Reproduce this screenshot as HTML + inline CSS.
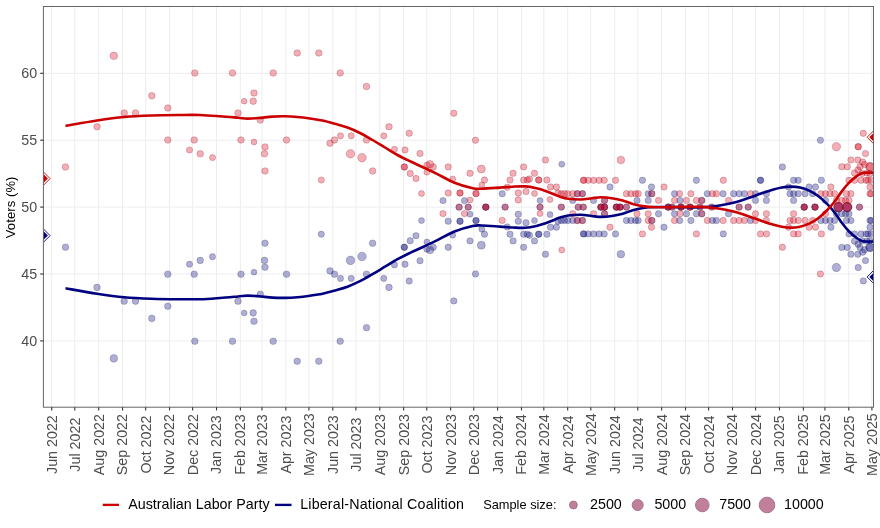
<!DOCTYPE html>
<html><head><meta charset="utf-8"><title>Two-party preferred voting intention</title>
<style>html,body{margin:0;padding:0;background:#fff}svg{display:block}</style></head>
<body>
<svg width="880" height="528" viewBox="0 0 880 528" font-family="Liberation Sans, Arial, sans-serif">
<rect width="880" height="528" fill="#fff"/>
<defs><clipPath id="cp"><rect x="43.4" y="6.5" width="830.1" height="400.7"/></clipPath></defs>
<g stroke="#ededed" stroke-width="1" fill="none">
<path d="M43.4 340.90H873.5"/>
<path d="M43.4 274.00H873.5"/>
<path d="M43.4 207.10H873.5"/>
<path d="M43.4 140.20H873.5"/>
<path d="M43.4 73.30H873.5"/>
<path d="M51.70 6.5V407.2"/>
<path d="M74.80 6.5V407.2"/>
<path d="M98.68 6.5V407.2"/>
<path d="M122.55 6.5V407.2"/>
<path d="M145.66 6.5V407.2"/>
<path d="M169.53 6.5V407.2"/>
<path d="M192.64 6.5V407.2"/>
<path d="M216.51 6.5V407.2"/>
<path d="M240.38 6.5V407.2"/>
<path d="M261.95 6.5V407.2"/>
<path d="M285.82 6.5V407.2"/>
<path d="M308.93 6.5V407.2"/>
<path d="M332.80 6.5V407.2"/>
<path d="M355.91 6.5V407.2"/>
<path d="M379.78 6.5V407.2"/>
<path d="M403.65 6.5V407.2"/>
<path d="M426.76 6.5V407.2"/>
<path d="M450.63 6.5V407.2"/>
<path d="M473.74 6.5V407.2"/>
<path d="M497.61 6.5V407.2"/>
<path d="M521.49 6.5V407.2"/>
<path d="M543.82 6.5V407.2"/>
<path d="M567.69 6.5V407.2"/>
<path d="M590.80 6.5V407.2"/>
<path d="M614.67 6.5V407.2"/>
<path d="M637.78 6.5V407.2"/>
<path d="M661.65 6.5V407.2"/>
<path d="M685.53 6.5V407.2"/>
<path d="M708.63 6.5V407.2"/>
<path d="M732.50 6.5V407.2"/>
<path d="M755.61 6.5V407.2"/>
<path d="M779.48 6.5V407.2"/>
<path d="M803.36 6.5V407.2"/>
<path d="M824.92 6.5V407.2"/>
<path d="M848.80 6.5V407.2"/>
<path d="M871.90 6.5V407.2"/>
</g>
<g clip-path="url(#cp)">
<g fill="#0a0a86" fill-opacity="0.33" stroke="#15153f" stroke-opacity="0.38" stroke-width="0.6">
<circle cx="113.8" cy="358.4" r="3.80"/>
<circle cx="65.5" cy="247.2" r="3.30"/>
<circle cx="97.0" cy="287.4" r="3.30"/>
<circle cx="124.2" cy="301.2" r="3.30"/>
<circle cx="135.5" cy="301.2" r="3.30"/>
<circle cx="151.8" cy="318.4" r="3.30"/>
<circle cx="167.8" cy="306.2" r="3.30"/>
<circle cx="167.8" cy="274.2" r="3.30"/>
<circle cx="194.8" cy="341.2" r="3.30"/>
<circle cx="194.2" cy="274.2" r="3.30"/>
<circle cx="189.5" cy="264.2" r="3.10"/>
<circle cx="200.2" cy="260.4" r="3.30"/>
<circle cx="212.5" cy="256.7" r="3.10"/>
<circle cx="232.5" cy="341.2" r="3.30"/>
<circle cx="238.0" cy="301.2" r="3.30"/>
<circle cx="244.2" cy="312.9" r="2.90"/>
<circle cx="254.0" cy="321.2" r="3.30"/>
<circle cx="253.2" cy="312.9" r="3.30"/>
<circle cx="241.0" cy="274.2" r="3.30"/>
<circle cx="254.0" cy="272.2" r="2.90"/>
<circle cx="260.3" cy="294.2" r="3.30"/>
<circle cx="273.2" cy="341.2" r="3.30"/>
<circle cx="297.2" cy="361.2" r="3.30"/>
<circle cx="318.8" cy="361.2" r="3.30"/>
<circle cx="340.2" cy="341.2" r="3.30"/>
<circle cx="366.5" cy="327.7" r="3.30"/>
<circle cx="286.5" cy="274.2" r="3.30"/>
<circle cx="265.0" cy="267.2" r="3.30"/>
<circle cx="264.5" cy="260.4" r="3.30"/>
<circle cx="265.0" cy="243.2" r="3.30"/>
<circle cx="321.3" cy="234.2" r="3.10"/>
<circle cx="330.0" cy="270.9" r="3.30"/>
<circle cx="334.5" cy="274.2" r="3.30"/>
<circle cx="340.5" cy="278.4" r="3.10"/>
<circle cx="351.2" cy="278.4" r="3.10"/>
<circle cx="350.5" cy="260.4" r="4.30"/>
<circle cx="362.0" cy="256.5" r="4.30"/>
<circle cx="366.5" cy="274.2" r="3.30"/>
<circle cx="372.6" cy="243.2" r="3.30"/>
<circle cx="383.8" cy="278.4" r="3.10"/>
<circle cx="389.0" cy="287.4" r="3.30"/>
<circle cx="409.2" cy="281.0" r="3.20"/>
<circle cx="394.5" cy="264.9" r="3.10"/>
<circle cx="405.0" cy="264.2" r="3.20"/>
<circle cx="420.0" cy="260.7" r="3.20"/>
<circle cx="404.3" cy="247.2" r="3.20"/>
<circle cx="404.3" cy="247.2" r="3.20"/>
<circle cx="410.2" cy="240.7" r="3.20"/>
<circle cx="416.0" cy="235.7" r="3.20"/>
<circle cx="426.9" cy="249.1" r="3.20"/>
<circle cx="430.0" cy="250.0" r="3.80"/>
<circle cx="433.3" cy="247.3" r="3.20"/>
<circle cx="426.9" cy="242.0" r="3.00"/>
<circle cx="421.5" cy="220.6" r="3.00"/>
<circle cx="448.2" cy="247.3" r="3.20"/>
<circle cx="452.7" cy="235.2" r="3.00"/>
<circle cx="448.2" cy="221.2" r="3.20"/>
<circle cx="443.0" cy="200.6" r="3.20"/>
<circle cx="460.0" cy="221.2" r="3.20"/>
<circle cx="460.0" cy="221.2" r="3.20"/>
<circle cx="453.8" cy="300.9" r="3.20"/>
<circle cx="475.5" cy="274.0" r="3.20"/>
<circle cx="470.0" cy="240.9" r="3.20"/>
<circle cx="481.3" cy="245.2" r="4.00"/>
<circle cx="484.5" cy="234.2" r="3.20"/>
<circle cx="481.8" cy="229.2" r="3.00"/>
<circle cx="476.0" cy="220.6" r="3.20"/>
<circle cx="476.0" cy="220.6" r="3.20"/>
<circle cx="470.0" cy="214.2" r="3.00"/>
<circle cx="464.5" cy="200.6" r="3.20"/>
<circle cx="502.2" cy="193.8" r="3.20"/>
<circle cx="510.0" cy="234.2" r="3.20"/>
<circle cx="513.1" cy="240.9" r="3.20"/>
<circle cx="507.3" cy="226.9" r="3.20"/>
<circle cx="523.6" cy="247.3" r="3.20"/>
<circle cx="523.6" cy="234.2" r="3.20"/>
<circle cx="527.3" cy="234.2" r="3.20"/>
<circle cx="529.5" cy="235.2" r="3.20"/>
<circle cx="518.2" cy="221.2" r="3.20"/>
<circle cx="526.0" cy="222.7" r="3.20"/>
<circle cx="518.2" cy="214.2" r="3.20"/>
<circle cx="534.5" cy="240.9" r="3.20"/>
<circle cx="538.7" cy="234.2" r="3.20"/>
<circle cx="538.7" cy="234.2" r="3.20"/>
<circle cx="534.5" cy="220.6" r="3.00"/>
<circle cx="545.5" cy="254.2" r="3.20"/>
<circle cx="546.9" cy="234.2" r="3.20"/>
<circle cx="550.5" cy="227.2" r="3.20"/>
<circle cx="556.4" cy="227.2" r="3.20"/>
<circle cx="550.0" cy="214.6" r="3.00"/>
<circle cx="540.0" cy="200.6" r="3.00"/>
<circle cx="558.0" cy="221.2" r="3.20"/>
<circle cx="561.8" cy="164.2" r="3.00"/>
<circle cx="459.1" cy="207.1" r="3.20"/>
<circle cx="468.2" cy="207.1" r="3.20"/>
<circle cx="485.8" cy="207.1" r="3.20"/>
<circle cx="485.8" cy="207.1" r="3.20"/>
<circle cx="505.1" cy="207.1" r="3.20"/>
<circle cx="540.0" cy="207.1" r="3.20"/>
<circle cx="561.3" cy="220.5" r="3.20"/>
<circle cx="564.5" cy="220.5" r="3.20"/>
<circle cx="567.8" cy="220.5" r="3.20"/>
<circle cx="572.7" cy="220.5" r="3.20"/>
<circle cx="577.3" cy="220.5" r="3.20"/>
<circle cx="582.4" cy="220.5" r="3.20"/>
<circle cx="577.3" cy="193.7" r="3.20"/>
<circle cx="582.4" cy="193.7" r="3.20"/>
<circle cx="583.6" cy="233.9" r="3.20"/>
<circle cx="583.6" cy="233.9" r="3.20"/>
<circle cx="588.2" cy="233.9" r="3.20"/>
<circle cx="593.6" cy="233.9" r="3.20"/>
<circle cx="599.1" cy="233.9" r="3.20"/>
<circle cx="604.2" cy="233.9" r="3.20"/>
<circle cx="615.5" cy="233.9" r="3.20"/>
<circle cx="620.9" cy="254.2" r="3.80"/>
<circle cx="610.0" cy="187.0" r="3.20"/>
<circle cx="651.5" cy="187.0" r="3.20"/>
<circle cx="642.4" cy="180.3" r="3.20"/>
<circle cx="696.4" cy="180.3" r="3.20"/>
<circle cx="664.0" cy="227.2" r="3.20"/>
<circle cx="626.4" cy="220.5" r="3.20"/>
<circle cx="630.9" cy="220.5" r="3.20"/>
<circle cx="635.5" cy="220.5" r="3.20"/>
<circle cx="638.2" cy="220.5" r="3.20"/>
<circle cx="651.8" cy="220.5" r="3.20"/>
<circle cx="679.6" cy="220.5" r="3.20"/>
<circle cx="690.9" cy="220.5" r="3.20"/>
<circle cx="648.2" cy="193.7" r="3.20"/>
<circle cx="651.8" cy="193.7" r="3.20"/>
<circle cx="674.5" cy="193.7" r="3.20"/>
<circle cx="707.3" cy="193.7" r="3.20"/>
<circle cx="604.5" cy="213.8" r="3.20"/>
<circle cx="658.5" cy="213.8" r="3.20"/>
<circle cx="674.5" cy="213.8" r="3.20"/>
<circle cx="686.4" cy="213.8" r="3.20"/>
<circle cx="696.4" cy="213.8" r="3.20"/>
<circle cx="701.8" cy="213.8" r="3.20"/>
<circle cx="593.6" cy="200.4" r="3.20"/>
<circle cx="572.7" cy="200.4" r="3.20"/>
<circle cx="637.0" cy="200.4" r="3.20"/>
<circle cx="648.2" cy="200.4" r="3.20"/>
<circle cx="680.0" cy="200.4" r="3.20"/>
<circle cx="701.8" cy="200.4" r="3.20"/>
<circle cx="604.5" cy="200.4" r="3.20"/>
<circle cx="561.3" cy="207.1" r="3.20"/>
<circle cx="578.2" cy="207.1" r="3.20"/>
<circle cx="583.3" cy="207.1" r="3.20"/>
<circle cx="600.9" cy="207.1" r="3.20"/>
<circle cx="604.5" cy="207.1" r="3.20"/>
<circle cx="600.9" cy="207.1" r="3.20"/>
<circle cx="604.5" cy="207.1" r="3.20"/>
<circle cx="616.4" cy="207.1" r="3.20"/>
<circle cx="620.0" cy="207.1" r="3.20"/>
<circle cx="616.4" cy="207.1" r="3.20"/>
<circle cx="620.0" cy="207.1" r="3.20"/>
<circle cx="626.4" cy="207.1" r="3.20"/>
<circle cx="668.2" cy="207.1" r="3.20"/>
<circle cx="668.2" cy="207.1" r="3.20"/>
<circle cx="672.0" cy="207.1" r="3.20"/>
<circle cx="681.0" cy="207.1" r="3.20"/>
<circle cx="681.0" cy="207.1" r="3.20"/>
<circle cx="690.0" cy="207.1" r="3.20"/>
<circle cx="690.0" cy="207.1" r="3.20"/>
<circle cx="700.0" cy="207.1" r="3.20"/>
<circle cx="711.8" cy="207.1" r="3.20"/>
<circle cx="723.1" cy="193.7" r="3.20"/>
<circle cx="733.6" cy="193.7" r="3.20"/>
<circle cx="739.1" cy="193.7" r="3.20"/>
<circle cx="744.5" cy="193.7" r="3.20"/>
<circle cx="755.5" cy="193.7" r="3.20"/>
<circle cx="766.4" cy="193.7" r="3.20"/>
<circle cx="790.0" cy="193.7" r="3.20"/>
<circle cx="793.6" cy="193.7" r="3.20"/>
<circle cx="798.2" cy="193.7" r="3.20"/>
<circle cx="805.1" cy="193.7" r="3.20"/>
<circle cx="812.7" cy="193.7" r="3.20"/>
<circle cx="712.4" cy="220.5" r="3.20"/>
<circle cx="716.4" cy="220.5" r="3.20"/>
<circle cx="750.5" cy="220.5" r="3.20"/>
<circle cx="820.9" cy="220.5" r="3.20"/>
<circle cx="825.5" cy="220.5" r="3.20"/>
<circle cx="830.0" cy="220.5" r="3.20"/>
<circle cx="834.5" cy="220.5" r="3.20"/>
<circle cx="846.4" cy="220.5" r="3.20"/>
<circle cx="850.9" cy="220.5" r="3.20"/>
<circle cx="723.3" cy="233.9" r="3.20"/>
<circle cx="760.5" cy="180.3" r="3.20"/>
<circle cx="793.6" cy="180.3" r="3.20"/>
<circle cx="798.2" cy="180.3" r="3.20"/>
<circle cx="821.3" cy="180.3" r="3.20"/>
<circle cx="782.4" cy="167.0" r="3.20"/>
<circle cx="820.4" cy="140.2" r="3.20"/>
<circle cx="788.5" cy="187.0" r="3.20"/>
<circle cx="809.1" cy="187.0" r="3.20"/>
<circle cx="815.5" cy="187.0" r="3.20"/>
<circle cx="830.9" cy="227.2" r="3.20"/>
<circle cx="728.5" cy="213.8" r="3.20"/>
<circle cx="845.5" cy="213.8" r="3.20"/>
<circle cx="849.0" cy="213.8" r="3.20"/>
<circle cx="836.4" cy="213.8" r="3.20"/>
<circle cx="841.8" cy="213.8" r="3.20"/>
<circle cx="755.5" cy="200.4" r="3.20"/>
<circle cx="766.4" cy="200.4" r="3.20"/>
<circle cx="793.6" cy="200.4" r="3.20"/>
<circle cx="825.5" cy="200.4" r="3.20"/>
<circle cx="739.1" cy="207.1" r="3.20"/>
<circle cx="748.2" cy="207.1" r="3.20"/>
<circle cx="804.2" cy="207.1" r="3.20"/>
<circle cx="815.0" cy="207.1" r="3.20"/>
<circle cx="859.5" cy="207.1" r="3.20"/>
<circle cx="804.2" cy="207.1" r="3.20"/>
<circle cx="815.0" cy="207.1" r="3.20"/>
<circle cx="838.5" cy="207.1" r="4.60"/>
<circle cx="847.2" cy="207.1" r="4.60"/>
<circle cx="838.5" cy="207.1" r="4.60"/>
<circle cx="847.2" cy="207.1" r="4.60"/>
<circle cx="863.3" cy="280.9" r="3.20"/>
<circle cx="836.4" cy="267.5" r="4.20"/>
<circle cx="858.2" cy="267.5" r="3.20"/>
<circle cx="865.5" cy="260.6" r="3.20"/>
<circle cx="850.9" cy="254.2" r="3.20"/>
<circle cx="857.8" cy="254.2" r="3.20"/>
<circle cx="862.7" cy="252.2" r="3.20"/>
<circle cx="841.8" cy="247.4" r="3.20"/>
<circle cx="847.3" cy="247.4" r="3.20"/>
<circle cx="860.0" cy="247.4" r="3.20"/>
<circle cx="864.5" cy="249.7" r="3.20"/>
<circle cx="870.0" cy="247.4" r="4.20"/>
<circle cx="870.0" cy="247.4" r="4.20"/>
<circle cx="854.5" cy="241.2" r="3.20"/>
<circle cx="858.0" cy="244.2" r="3.20"/>
<circle cx="862.0" cy="240.7" r="3.20"/>
<circle cx="867.0" cy="241.2" r="3.20"/>
<circle cx="870.0" cy="227.2" r="3.20"/>
<circle cx="849.0" cy="233.9" r="3.20"/>
<circle cx="854.5" cy="233.9" r="3.20"/>
<circle cx="861.0" cy="233.9" r="3.20"/>
<circle cx="868.0" cy="233.9" r="3.20"/>
<circle cx="871.0" cy="233.9" r="3.20"/>
<circle cx="866.0" cy="233.9" r="3.20"/>
<circle cx="870.0" cy="220.5" r="3.20"/>
<circle cx="871.0" cy="220.5" r="3.20"/>
<circle cx="870.0" cy="240.6" r="3.20"/>
<circle cx="760.5" cy="180.3" r="3.20"/>
</g>
<g fill="#dd0a1e" fill-opacity="0.33" stroke="#7a0018" stroke-opacity="0.38" stroke-width="0.6">
<circle cx="113.8" cy="55.8" r="3.80"/>
<circle cx="65.5" cy="167.0" r="3.30"/>
<circle cx="97.0" cy="126.8" r="3.30"/>
<circle cx="124.2" cy="113.0" r="3.30"/>
<circle cx="135.5" cy="113.0" r="3.30"/>
<circle cx="151.8" cy="95.8" r="3.30"/>
<circle cx="167.8" cy="108.0" r="3.30"/>
<circle cx="167.8" cy="140.0" r="3.30"/>
<circle cx="194.8" cy="73.0" r="3.30"/>
<circle cx="194.2" cy="140.0" r="3.30"/>
<circle cx="189.5" cy="150.0" r="3.10"/>
<circle cx="200.2" cy="153.8" r="3.30"/>
<circle cx="212.5" cy="157.5" r="3.10"/>
<circle cx="232.5" cy="73.0" r="3.30"/>
<circle cx="238.0" cy="113.0" r="3.30"/>
<circle cx="244.2" cy="101.2" r="2.90"/>
<circle cx="254.0" cy="93.0" r="3.30"/>
<circle cx="253.2" cy="101.2" r="3.30"/>
<circle cx="241.0" cy="140.0" r="3.30"/>
<circle cx="254.0" cy="142.0" r="2.90"/>
<circle cx="260.3" cy="120.0" r="3.30"/>
<circle cx="273.2" cy="73.0" r="3.30"/>
<circle cx="297.2" cy="53.0" r="3.30"/>
<circle cx="318.8" cy="53.0" r="3.30"/>
<circle cx="340.2" cy="73.0" r="3.30"/>
<circle cx="366.5" cy="86.5" r="3.30"/>
<circle cx="286.5" cy="140.0" r="3.30"/>
<circle cx="265.0" cy="147.0" r="3.30"/>
<circle cx="264.5" cy="153.8" r="3.30"/>
<circle cx="265.0" cy="171.0" r="3.30"/>
<circle cx="321.3" cy="180.0" r="3.10"/>
<circle cx="330.0" cy="143.2" r="3.30"/>
<circle cx="334.5" cy="140.0" r="3.30"/>
<circle cx="340.5" cy="135.8" r="3.10"/>
<circle cx="351.2" cy="135.8" r="3.10"/>
<circle cx="350.5" cy="153.8" r="4.30"/>
<circle cx="362.0" cy="157.7" r="4.30"/>
<circle cx="366.5" cy="140.0" r="3.30"/>
<circle cx="372.6" cy="171.0" r="3.30"/>
<circle cx="383.8" cy="135.8" r="3.10"/>
<circle cx="389.0" cy="126.8" r="3.30"/>
<circle cx="409.2" cy="133.2" r="3.20"/>
<circle cx="394.5" cy="149.3" r="3.10"/>
<circle cx="405.0" cy="150.0" r="3.20"/>
<circle cx="420.0" cy="153.5" r="3.20"/>
<circle cx="404.3" cy="167.0" r="3.20"/>
<circle cx="404.3" cy="167.0" r="3.20"/>
<circle cx="410.2" cy="173.5" r="3.20"/>
<circle cx="416.0" cy="178.5" r="3.20"/>
<circle cx="426.9" cy="165.1" r="3.20"/>
<circle cx="430.0" cy="164.2" r="3.80"/>
<circle cx="433.3" cy="166.9" r="3.20"/>
<circle cx="426.9" cy="172.2" r="3.00"/>
<circle cx="421.5" cy="193.6" r="3.00"/>
<circle cx="448.2" cy="166.9" r="3.20"/>
<circle cx="452.7" cy="179.0" r="3.00"/>
<circle cx="448.2" cy="193.0" r="3.20"/>
<circle cx="443.0" cy="213.6" r="3.20"/>
<circle cx="460.0" cy="193.0" r="3.20"/>
<circle cx="460.0" cy="193.0" r="3.20"/>
<circle cx="453.8" cy="113.2" r="3.20"/>
<circle cx="475.5" cy="140.2" r="3.20"/>
<circle cx="470.0" cy="173.3" r="3.20"/>
<circle cx="481.3" cy="169.0" r="4.00"/>
<circle cx="484.5" cy="180.0" r="3.20"/>
<circle cx="481.8" cy="185.0" r="3.00"/>
<circle cx="476.0" cy="193.6" r="3.20"/>
<circle cx="476.0" cy="193.6" r="3.20"/>
<circle cx="470.0" cy="200.0" r="3.00"/>
<circle cx="464.5" cy="213.6" r="3.20"/>
<circle cx="502.2" cy="220.4" r="3.20"/>
<circle cx="510.0" cy="180.0" r="3.20"/>
<circle cx="513.1" cy="173.3" r="3.20"/>
<circle cx="507.3" cy="187.3" r="3.20"/>
<circle cx="523.6" cy="166.9" r="3.20"/>
<circle cx="523.6" cy="180.0" r="3.20"/>
<circle cx="527.3" cy="180.0" r="3.20"/>
<circle cx="529.5" cy="179.0" r="3.20"/>
<circle cx="518.2" cy="193.0" r="3.20"/>
<circle cx="526.0" cy="191.5" r="3.20"/>
<circle cx="518.2" cy="200.0" r="3.20"/>
<circle cx="534.5" cy="173.3" r="3.20"/>
<circle cx="538.7" cy="180.0" r="3.20"/>
<circle cx="538.7" cy="180.0" r="3.20"/>
<circle cx="534.5" cy="193.6" r="3.00"/>
<circle cx="545.5" cy="160.0" r="3.20"/>
<circle cx="546.9" cy="180.0" r="3.20"/>
<circle cx="550.5" cy="187.0" r="3.20"/>
<circle cx="556.4" cy="187.0" r="3.20"/>
<circle cx="550.0" cy="199.6" r="3.00"/>
<circle cx="540.0" cy="213.6" r="3.00"/>
<circle cx="558.0" cy="193.0" r="3.20"/>
<circle cx="561.8" cy="250.0" r="3.00"/>
<circle cx="459.1" cy="207.1" r="3.20"/>
<circle cx="468.2" cy="207.1" r="3.20"/>
<circle cx="485.8" cy="207.1" r="3.20"/>
<circle cx="485.8" cy="207.1" r="3.20"/>
<circle cx="505.1" cy="207.1" r="3.20"/>
<circle cx="540.0" cy="207.1" r="3.20"/>
<circle cx="561.3" cy="193.7" r="3.20"/>
<circle cx="564.5" cy="193.7" r="3.20"/>
<circle cx="567.8" cy="193.7" r="3.20"/>
<circle cx="572.7" cy="193.7" r="3.20"/>
<circle cx="577.3" cy="193.7" r="3.20"/>
<circle cx="582.4" cy="193.7" r="3.20"/>
<circle cx="577.3" cy="220.5" r="3.20"/>
<circle cx="582.4" cy="220.5" r="3.20"/>
<circle cx="583.6" cy="180.3" r="3.20"/>
<circle cx="583.6" cy="180.3" r="3.20"/>
<circle cx="588.2" cy="180.3" r="3.20"/>
<circle cx="593.6" cy="180.3" r="3.20"/>
<circle cx="599.1" cy="180.3" r="3.20"/>
<circle cx="604.2" cy="180.3" r="3.20"/>
<circle cx="615.5" cy="180.3" r="3.20"/>
<circle cx="620.9" cy="160.0" r="3.80"/>
<circle cx="610.0" cy="227.2" r="3.20"/>
<circle cx="651.5" cy="227.2" r="3.20"/>
<circle cx="642.4" cy="233.9" r="3.20"/>
<circle cx="696.4" cy="233.9" r="3.20"/>
<circle cx="664.0" cy="187.0" r="3.20"/>
<circle cx="626.4" cy="193.7" r="3.20"/>
<circle cx="630.9" cy="193.7" r="3.20"/>
<circle cx="635.5" cy="193.7" r="3.20"/>
<circle cx="638.2" cy="193.7" r="3.20"/>
<circle cx="651.8" cy="193.7" r="3.20"/>
<circle cx="679.6" cy="193.7" r="3.20"/>
<circle cx="690.9" cy="193.7" r="3.20"/>
<circle cx="648.2" cy="220.5" r="3.20"/>
<circle cx="651.8" cy="220.5" r="3.20"/>
<circle cx="674.5" cy="220.5" r="3.20"/>
<circle cx="707.3" cy="220.5" r="3.20"/>
<circle cx="604.5" cy="200.4" r="3.20"/>
<circle cx="658.5" cy="200.4" r="3.20"/>
<circle cx="674.5" cy="200.4" r="3.20"/>
<circle cx="686.4" cy="200.4" r="3.20"/>
<circle cx="696.4" cy="200.4" r="3.20"/>
<circle cx="701.8" cy="200.4" r="3.20"/>
<circle cx="593.6" cy="213.8" r="3.20"/>
<circle cx="572.7" cy="213.8" r="3.20"/>
<circle cx="637.0" cy="213.8" r="3.20"/>
<circle cx="648.2" cy="213.8" r="3.20"/>
<circle cx="680.0" cy="213.8" r="3.20"/>
<circle cx="701.8" cy="213.8" r="3.20"/>
<circle cx="604.5" cy="213.8" r="3.20"/>
<circle cx="561.3" cy="207.1" r="3.20"/>
<circle cx="578.2" cy="207.1" r="3.20"/>
<circle cx="583.3" cy="207.1" r="3.20"/>
<circle cx="600.9" cy="207.1" r="3.20"/>
<circle cx="604.5" cy="207.1" r="3.20"/>
<circle cx="600.9" cy="207.1" r="3.20"/>
<circle cx="604.5" cy="207.1" r="3.20"/>
<circle cx="616.4" cy="207.1" r="3.20"/>
<circle cx="620.0" cy="207.1" r="3.20"/>
<circle cx="616.4" cy="207.1" r="3.20"/>
<circle cx="620.0" cy="207.1" r="3.20"/>
<circle cx="626.4" cy="207.1" r="3.20"/>
<circle cx="668.2" cy="207.1" r="3.20"/>
<circle cx="668.2" cy="207.1" r="3.20"/>
<circle cx="672.0" cy="207.1" r="3.20"/>
<circle cx="681.0" cy="207.1" r="3.20"/>
<circle cx="681.0" cy="207.1" r="3.20"/>
<circle cx="690.0" cy="207.1" r="3.20"/>
<circle cx="690.0" cy="207.1" r="3.20"/>
<circle cx="700.0" cy="207.1" r="3.20"/>
<circle cx="711.8" cy="207.1" r="3.20"/>
<circle cx="723.1" cy="220.5" r="3.20"/>
<circle cx="733.6" cy="220.5" r="3.20"/>
<circle cx="739.1" cy="220.5" r="3.20"/>
<circle cx="744.5" cy="220.5" r="3.20"/>
<circle cx="755.5" cy="220.5" r="3.20"/>
<circle cx="766.4" cy="220.5" r="3.20"/>
<circle cx="790.0" cy="220.5" r="3.20"/>
<circle cx="793.6" cy="220.5" r="3.20"/>
<circle cx="798.2" cy="220.5" r="3.20"/>
<circle cx="805.1" cy="220.5" r="3.20"/>
<circle cx="812.7" cy="220.5" r="3.20"/>
<circle cx="712.4" cy="193.7" r="3.20"/>
<circle cx="716.4" cy="193.7" r="3.20"/>
<circle cx="750.5" cy="193.7" r="3.20"/>
<circle cx="820.9" cy="193.7" r="3.20"/>
<circle cx="825.5" cy="193.7" r="3.20"/>
<circle cx="830.0" cy="193.7" r="3.20"/>
<circle cx="834.5" cy="193.7" r="3.20"/>
<circle cx="846.4" cy="193.7" r="3.20"/>
<circle cx="850.9" cy="193.7" r="3.20"/>
<circle cx="723.3" cy="180.3" r="3.20"/>
<circle cx="760.5" cy="233.9" r="3.20"/>
<circle cx="793.6" cy="233.9" r="3.20"/>
<circle cx="798.2" cy="233.9" r="3.20"/>
<circle cx="821.3" cy="233.9" r="3.20"/>
<circle cx="782.4" cy="247.2" r="3.20"/>
<circle cx="820.4" cy="274.0" r="3.20"/>
<circle cx="788.5" cy="227.2" r="3.20"/>
<circle cx="809.1" cy="227.2" r="3.20"/>
<circle cx="815.5" cy="227.2" r="3.20"/>
<circle cx="830.9" cy="187.0" r="3.20"/>
<circle cx="728.5" cy="200.4" r="3.20"/>
<circle cx="845.5" cy="200.4" r="3.20"/>
<circle cx="849.0" cy="200.4" r="3.20"/>
<circle cx="836.4" cy="200.4" r="3.20"/>
<circle cx="841.8" cy="200.4" r="3.20"/>
<circle cx="755.5" cy="213.8" r="3.20"/>
<circle cx="766.4" cy="213.8" r="3.20"/>
<circle cx="793.6" cy="213.8" r="3.20"/>
<circle cx="825.5" cy="213.8" r="3.20"/>
<circle cx="739.1" cy="207.1" r="3.20"/>
<circle cx="748.2" cy="207.1" r="3.20"/>
<circle cx="804.2" cy="207.1" r="3.20"/>
<circle cx="815.0" cy="207.1" r="3.20"/>
<circle cx="859.5" cy="207.1" r="3.20"/>
<circle cx="804.2" cy="207.1" r="3.20"/>
<circle cx="815.0" cy="207.1" r="3.20"/>
<circle cx="838.5" cy="207.1" r="4.60"/>
<circle cx="847.2" cy="207.1" r="4.60"/>
<circle cx="838.5" cy="207.1" r="4.60"/>
<circle cx="847.2" cy="207.1" r="4.60"/>
<circle cx="863.3" cy="133.3" r="3.20"/>
<circle cx="836.4" cy="146.7" r="4.20"/>
<circle cx="858.2" cy="146.7" r="3.20"/>
<circle cx="865.5" cy="153.6" r="3.20"/>
<circle cx="850.9" cy="160.0" r="3.20"/>
<circle cx="857.8" cy="160.0" r="3.20"/>
<circle cx="862.7" cy="162.0" r="3.20"/>
<circle cx="841.8" cy="166.8" r="3.20"/>
<circle cx="847.3" cy="166.8" r="3.20"/>
<circle cx="860.0" cy="166.8" r="3.20"/>
<circle cx="864.5" cy="164.5" r="3.20"/>
<circle cx="870.0" cy="166.8" r="4.20"/>
<circle cx="870.0" cy="166.8" r="4.20"/>
<circle cx="854.5" cy="173.0" r="3.20"/>
<circle cx="858.0" cy="170.0" r="3.20"/>
<circle cx="862.0" cy="173.5" r="3.20"/>
<circle cx="867.0" cy="173.0" r="3.20"/>
<circle cx="870.0" cy="187.0" r="3.20"/>
<circle cx="849.0" cy="180.3" r="3.20"/>
<circle cx="854.5" cy="180.3" r="3.20"/>
<circle cx="861.0" cy="180.3" r="3.20"/>
<circle cx="868.0" cy="180.3" r="3.20"/>
<circle cx="871.0" cy="180.3" r="3.20"/>
<circle cx="866.0" cy="180.3" r="3.20"/>
<circle cx="870.0" cy="193.7" r="3.20"/>
<circle cx="871.0" cy="193.7" r="3.20"/>
<circle cx="870.0" cy="173.6" r="3.20"/>
<circle cx="766.5" cy="233.9" r="3.20"/>
<circle cx="858.2" cy="146.7" r="3.20"/>
</g>
<path d="M65.50 288.30C70.75 289.20 87.21 292.22 97.00 293.70C106.79 295.18 115.12 296.37 124.25 297.20C133.38 298.03 142.46 298.37 151.75 298.70C161.04 299.03 171.96 299.12 180.00 299.20C188.04 299.28 193.33 299.41 200.00 299.20C206.67 298.99 213.67 298.41 220.00 297.95C226.33 297.49 233.42 296.84 238.00 296.45C242.58 296.06 244.04 295.64 247.50 295.60C250.96 295.56 254.58 295.87 258.75 296.20C262.92 296.53 268.12 297.32 272.50 297.60C276.88 297.88 280.83 297.97 285.00 297.90C289.17 297.83 293.33 297.57 297.50 297.20C301.67 296.83 305.83 296.28 310.00 295.70C314.17 295.12 318.33 294.57 322.50 293.70C326.67 292.82 330.83 291.62 335.00 290.45C339.17 289.28 343.33 288.24 347.50 286.70C351.67 285.16 355.83 283.28 360.00 281.20C364.17 279.12 368.33 276.62 372.50 274.20C376.67 271.78 380.83 269.20 385.00 266.70C389.17 264.20 393.33 261.49 397.50 259.20C401.67 256.91 405.83 254.95 410.00 252.95C414.17 250.95 418.10 249.26 422.50 247.20C426.90 245.14 431.07 243.22 436.40 240.60C441.73 237.98 448.45 233.93 454.50 231.50C460.55 229.07 468.15 227.00 472.70 226.00C477.25 225.00 477.25 225.40 481.80 225.50C486.35 225.60 494.85 226.27 500.00 226.60C505.15 226.93 508.45 227.30 512.70 227.50C516.95 227.70 521.55 228.05 525.50 227.80C529.45 227.55 533.07 226.75 536.40 226.00C539.73 225.25 542.48 224.35 545.50 223.30C548.52 222.25 552.08 220.67 554.50 219.70C556.92 218.73 557.72 218.20 560.00 217.50C562.28 216.80 564.70 215.97 568.20 215.50C571.70 215.03 577.07 214.62 581.00 214.70C584.93 214.78 588.47 215.63 591.80 216.00C595.13 216.37 597.67 216.90 601.00 216.90C604.33 216.90 608.18 216.53 611.80 216.00C615.42 215.47 619.07 214.70 622.70 213.70C626.33 212.70 629.97 210.98 633.60 210.00C637.23 209.02 640.85 208.30 644.50 207.80C648.15 207.30 651.55 207.13 655.50 207.00C659.45 206.87 662.75 206.95 668.20 207.00C673.65 207.05 682.90 207.25 688.20 207.30C693.50 207.35 695.00 207.57 700.00 207.30C705.00 207.03 712.13 206.58 718.20 205.70C724.27 204.82 731.25 203.32 736.40 202.00C741.55 200.68 744.87 199.25 749.10 197.80C753.33 196.35 757.87 194.65 761.80 193.30C765.73 191.95 769.37 190.67 772.70 189.70C776.03 188.73 778.77 188.02 781.80 187.50C784.83 186.98 787.87 186.60 790.90 186.60C793.93 186.60 796.97 186.83 800.00 187.50C803.03 188.17 806.07 189.18 809.10 190.60C812.13 192.02 815.17 193.73 818.20 196.00C821.23 198.27 824.58 201.47 827.30 204.20C830.02 206.93 832.08 209.30 834.50 212.40C836.92 215.50 839.37 219.62 841.80 222.80C844.23 225.98 846.67 229.00 849.10 231.50C851.53 234.00 854.28 236.22 856.40 237.80C858.52 239.38 860.03 240.37 861.80 241.00C863.57 241.63 865.03 241.52 867.00 241.60C868.97 241.68 872.50 241.52 873.60 241.50" fill="none" stroke="#000080" stroke-width="2.6" stroke-linejoin="round"/>
<path d="M65.50 125.90C70.75 125.00 87.21 121.98 97.00 120.50C106.79 119.02 115.12 117.83 124.25 117.00C133.38 116.17 142.46 115.83 151.75 115.50C161.04 115.17 171.96 115.08 180.00 115.00C188.04 114.92 193.33 114.79 200.00 115.00C206.67 115.21 213.67 115.79 220.00 116.25C226.33 116.71 233.42 117.36 238.00 117.75C242.58 118.14 244.04 118.56 247.50 118.60C250.96 118.64 254.58 118.33 258.75 118.00C262.92 117.67 268.12 116.88 272.50 116.60C276.88 116.32 280.83 116.23 285.00 116.30C289.17 116.37 293.33 116.63 297.50 117.00C301.67 117.37 305.83 117.92 310.00 118.50C314.17 119.08 318.33 119.62 322.50 120.50C326.67 121.38 330.83 122.58 335.00 123.75C339.17 124.92 343.33 125.96 347.50 127.50C351.67 129.04 355.83 130.92 360.00 133.00C364.17 135.08 368.33 137.58 372.50 140.00C376.67 142.42 380.83 145.00 385.00 147.50C389.17 150.00 393.33 152.71 397.50 155.00C401.67 157.29 405.83 159.25 410.00 161.25C414.17 163.25 418.10 164.94 422.50 167.00C426.90 169.06 431.07 170.98 436.40 173.60C441.73 176.22 448.45 180.27 454.50 182.70C460.55 185.13 468.15 187.20 472.70 188.20C477.25 189.20 477.25 188.80 481.80 188.70C486.35 188.60 494.85 187.93 500.00 187.60C505.15 187.27 508.45 186.90 512.70 186.70C516.95 186.50 521.55 186.15 525.50 186.40C529.45 186.65 533.07 187.45 536.40 188.20C539.73 188.95 542.48 189.85 545.50 190.90C548.52 191.95 552.08 193.53 554.50 194.50C556.92 195.47 557.72 196.00 560.00 196.70C562.28 197.40 564.70 198.23 568.20 198.70C571.70 199.17 577.07 199.58 581.00 199.50C584.93 199.42 588.47 198.57 591.80 198.20C595.13 197.83 597.67 197.30 601.00 197.30C604.33 197.30 608.18 197.67 611.80 198.20C615.42 198.73 619.07 199.50 622.70 200.50C626.33 201.50 629.97 203.22 633.60 204.20C637.23 205.18 640.85 205.90 644.50 206.40C648.15 206.90 651.55 207.07 655.50 207.20C659.45 207.33 662.75 207.25 668.20 207.20C673.65 207.15 682.90 206.95 688.20 206.90C693.50 206.85 695.00 206.63 700.00 206.90C705.00 207.17 712.13 207.62 718.20 208.50C724.27 209.38 731.25 210.88 736.40 212.20C741.55 213.52 744.87 214.95 749.10 216.40C753.33 217.85 757.87 219.55 761.80 220.90C765.73 222.25 769.37 223.53 772.70 224.50C776.03 225.47 778.77 226.18 781.80 226.70C784.83 227.22 787.87 227.60 790.90 227.60C793.93 227.60 796.97 227.37 800.00 226.70C803.03 226.03 806.07 225.02 809.10 223.60C812.13 222.18 815.17 220.47 818.20 218.20C821.23 215.93 824.58 212.73 827.30 210.00C830.02 207.27 832.08 204.90 834.50 201.80C836.92 198.70 839.37 194.58 841.80 191.40C844.23 188.22 846.67 185.20 849.10 182.70C851.53 180.20 854.28 177.98 856.40 176.40C858.52 174.82 860.03 173.83 861.80 173.20C863.57 172.57 865.03 172.68 867.00 172.60C868.97 172.52 872.50 172.68 873.60 172.70" fill="none" stroke="#cc0000" stroke-width="2.6" stroke-linejoin="round"/>
<path d="M36.699999999999996 178.60059999999996L43.4 171.90059999999997L50.1 178.60059999999996L43.4 185.30059999999995Z" fill="#fff" stroke="#cc0000" stroke-width="0.9"/>
<path d="M38.9 178.60059999999996L43.4 174.10059999999996L47.9 178.60059999999996L43.4 183.10059999999996Z" fill="#cc0000"/>
<path d="M36.699999999999996 235.59940000000003L43.4 228.89940000000004L50.1 235.59940000000003L43.4 242.29940000000002Z" fill="#fff" stroke="#000080" stroke-width="0.9"/>
<path d="M38.9 235.59940000000003L43.4 231.09940000000003L47.9 235.59940000000003L43.4 240.09940000000003Z" fill="#000080"/>
<path d="M867.0999999999999 137.25639999999999L873.8 130.5564L880.5 137.25639999999999L873.8 143.95639999999997Z" fill="#fff" stroke="#cc0000" stroke-width="0.9"/>
<path d="M869.3 137.25639999999999L873.8 132.75639999999999L878.3 137.25639999999999L873.8 141.75639999999999Z" fill="#cc0000"/>
<path d="M867.0999999999999 276.9436L873.8 270.2436L880.5 276.9436L873.8 283.6436Z" fill="#fff" stroke="#000080" stroke-width="0.9"/>
<path d="M869.3 276.9436L873.8 272.4436L878.3 276.9436L873.8 281.4436Z" fill="#000080"/>
</g>
<rect x="43.4" y="6.5" width="830.1" height="400.7" fill="none" stroke="#666" stroke-width="1"/>
<g stroke="#333" stroke-width="1.1">
<path d="M40.199999999999996 340.90H43.4"/>
<path d="M40.199999999999996 274.00H43.4"/>
<path d="M40.199999999999996 207.10H43.4"/>
<path d="M40.199999999999996 140.20H43.4"/>
<path d="M40.199999999999996 73.30H43.4"/>
<path d="M51.70 407.2V410.4"/>
<path d="M74.80 407.2V410.4"/>
<path d="M98.68 407.2V410.4"/>
<path d="M122.55 407.2V410.4"/>
<path d="M145.66 407.2V410.4"/>
<path d="M169.53 407.2V410.4"/>
<path d="M192.64 407.2V410.4"/>
<path d="M216.51 407.2V410.4"/>
<path d="M240.38 407.2V410.4"/>
<path d="M261.95 407.2V410.4"/>
<path d="M285.82 407.2V410.4"/>
<path d="M308.93 407.2V410.4"/>
<path d="M332.80 407.2V410.4"/>
<path d="M355.91 407.2V410.4"/>
<path d="M379.78 407.2V410.4"/>
<path d="M403.65 407.2V410.4"/>
<path d="M426.76 407.2V410.4"/>
<path d="M450.63 407.2V410.4"/>
<path d="M473.74 407.2V410.4"/>
<path d="M497.61 407.2V410.4"/>
<path d="M521.49 407.2V410.4"/>
<path d="M543.82 407.2V410.4"/>
<path d="M567.69 407.2V410.4"/>
<path d="M590.80 407.2V410.4"/>
<path d="M614.67 407.2V410.4"/>
<path d="M637.78 407.2V410.4"/>
<path d="M661.65 407.2V410.4"/>
<path d="M685.53 407.2V410.4"/>
<path d="M708.63 407.2V410.4"/>
<path d="M732.50 407.2V410.4"/>
<path d="M755.61 407.2V410.4"/>
<path d="M779.48 407.2V410.4"/>
<path d="M803.36 407.2V410.4"/>
<path d="M824.92 407.2V410.4"/>
<path d="M848.80 407.2V410.4"/>
<path d="M871.90 407.2V410.4"/>
</g>
<g fill="#4d4d4d" font-size="14.3">
<text x="37.2" y="346.00" text-anchor="end">40</text>
<text x="37.2" y="279.10" text-anchor="end">45</text>
<text x="37.2" y="212.20" text-anchor="end">50</text>
<text x="37.2" y="145.30" text-anchor="end">55</text>
<text x="37.2" y="78.40" text-anchor="end">60</text>
<text transform="translate(56.60 444.6) rotate(-90)" text-anchor="middle">Jun 2022</text>
<text transform="translate(79.70 444.6) rotate(-90)" text-anchor="middle">Jul 2022</text>
<text transform="translate(103.58 444.6) rotate(-90)" text-anchor="middle">Aug 2022</text>
<text transform="translate(127.45 444.6) rotate(-90)" text-anchor="middle">Sep 2022</text>
<text transform="translate(150.56 444.6) rotate(-90)" text-anchor="middle">Oct 2022</text>
<text transform="translate(174.43 444.6) rotate(-90)" text-anchor="middle">Nov 2022</text>
<text transform="translate(197.54 444.6) rotate(-90)" text-anchor="middle">Dec 2022</text>
<text transform="translate(221.41 444.6) rotate(-90)" text-anchor="middle">Jan 2023</text>
<text transform="translate(245.28 444.6) rotate(-90)" text-anchor="middle">Feb 2023</text>
<text transform="translate(266.85 444.6) rotate(-90)" text-anchor="middle">Mar 2023</text>
<text transform="translate(290.72 444.6) rotate(-90)" text-anchor="middle">Apr 2023</text>
<text transform="translate(313.83 444.6) rotate(-90)" text-anchor="middle">May 2023</text>
<text transform="translate(337.70 444.6) rotate(-90)" text-anchor="middle">Jun 2023</text>
<text transform="translate(360.81 444.6) rotate(-90)" text-anchor="middle">Jul 2023</text>
<text transform="translate(384.68 444.6) rotate(-90)" text-anchor="middle">Aug 2023</text>
<text transform="translate(408.55 444.6) rotate(-90)" text-anchor="middle">Sep 2023</text>
<text transform="translate(431.66 444.6) rotate(-90)" text-anchor="middle">Oct 2023</text>
<text transform="translate(455.53 444.6) rotate(-90)" text-anchor="middle">Nov 2023</text>
<text transform="translate(478.64 444.6) rotate(-90)" text-anchor="middle">Dec 2023</text>
<text transform="translate(502.51 444.6) rotate(-90)" text-anchor="middle">Jan 2024</text>
<text transform="translate(526.39 444.6) rotate(-90)" text-anchor="middle">Feb 2024</text>
<text transform="translate(548.72 444.6) rotate(-90)" text-anchor="middle">Mar 2024</text>
<text transform="translate(572.59 444.6) rotate(-90)" text-anchor="middle">Apr 2024</text>
<text transform="translate(595.70 444.6) rotate(-90)" text-anchor="middle">May 2024</text>
<text transform="translate(619.57 444.6) rotate(-90)" text-anchor="middle">Jun 2024</text>
<text transform="translate(642.68 444.6) rotate(-90)" text-anchor="middle">Jul 2024</text>
<text transform="translate(666.55 444.6) rotate(-90)" text-anchor="middle">Aug 2024</text>
<text transform="translate(690.43 444.6) rotate(-90)" text-anchor="middle">Sep 2024</text>
<text transform="translate(713.53 444.6) rotate(-90)" text-anchor="middle">Oct 2024</text>
<text transform="translate(737.40 444.6) rotate(-90)" text-anchor="middle">Nov 2024</text>
<text transform="translate(760.51 444.6) rotate(-90)" text-anchor="middle">Dec 2024</text>
<text transform="translate(784.38 444.6) rotate(-90)" text-anchor="middle">Jan 2025</text>
<text transform="translate(808.26 444.6) rotate(-90)" text-anchor="middle">Feb 2025</text>
<text transform="translate(829.82 444.6) rotate(-90)" text-anchor="middle">Mar 2025</text>
<text transform="translate(853.70 444.6) rotate(-90)" text-anchor="middle">Apr 2025</text>
<text transform="translate(876.80 444.6) rotate(-90)" text-anchor="middle">May 2025</text>
</g>
<text transform="translate(15.4 238.2) rotate(-90)" font-size="13" fill="#000" textLength="61.6" lengthAdjust="spacing">Voters (%)</text>
<path d="M102.8 504.9H119" stroke="#cc0000" stroke-width="2.35"/>
<text x="128.2" y="509.3" font-size="14.3" fill="#000">Australian Labor Party</text>
<path d="M275 504.9H291.5" stroke="#000080" stroke-width="2.35"/>
<text x="300.2" y="509.3" font-size="14.3" fill="#000" textLength="163.8" lengthAdjust="spacing">Liberal-National Coalition</text>
<text x="483.2" y="509.0" font-size="12.8" fill="#000">Sample size:</text>
<g fill="#c0809b" stroke="#a46c85" stroke-width="0.9">
<circle cx="573.4" cy="505" r="3.90"/>
<circle cx="637.7" cy="505" r="5.50"/>
<circle cx="702.3" cy="505" r="6.80"/>
<circle cx="767" cy="505" r="7.80"/>
</g>
<g font-size="14.3" fill="#000">
<text x="590" y="509.3">2500</text>
<text x="654.4" y="509.3">5000</text>
<text x="719.2" y="509.3">7500</text>
<text x="784" y="509.3">10000</text>
</g>
</svg>
</body></html>
